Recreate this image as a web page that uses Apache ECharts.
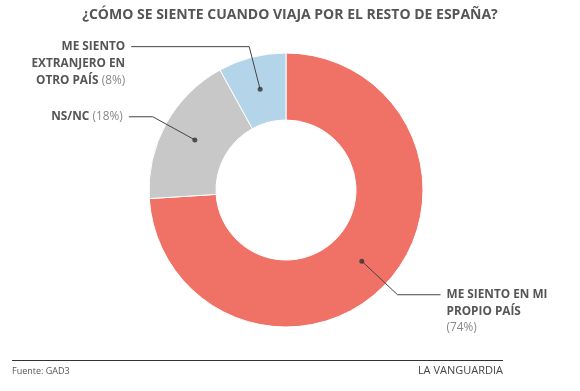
<!DOCTYPE html>
<html>
<head>
<meta charset="utf-8">
<script src="https://cdn.jsdelivr.net/npm/echarts@6/dist/echarts.min.js"></script>
<style>
html,body{margin:0;padding:0;background:#fff;}
#chart{width:580px;height:391px;}
</style>
</head>
<body>
<div id="chart"></div>
<script>
// ---- data ----
const categories = ['ME SIENTO EN MI\nPROPIO PAÍS', 'NS/NC', 'ME SIENTO\nEXTRANJERO EN\nOTRO PAÍS'];
const values = [74, 18, 8];
const pctSeparator = ['\n', ' ', ' '];
const titleText = '¿CÓMO SE SIENTE CUANDO VIAJA POR EL RESTO DE ESPAÑA?';
const sourceText = 'Fuente: GAD3';
const brandText = 'LA VANGUARDIA';

// ---- styles ----
const colors = ['#f07266', '#c8c8c8', '#b4d5e9'];
const lineLen = [49, 48, 44];
const lineLen2 = [43, 24, 118];
const lineHeights = [16.5, 17, 17];
const CX = 286, CY = 190;
const FONT = '"Open Sans", sans-serif';

const total = values.reduce((a, b) => a + b, 0);

function labelText(i) {
  const lines = categories[i].split('\n').map(s => '{b|' + s + '}');
  const pct = '{n|(' + values[i] + '%)}';
  if (pctSeparator[i] === '\n') return lines.join('\n') + '\n' + pct;
  lines[lines.length - 1] += ' ' + pct;
  return lines.join('\n');
}
function lineCount(i) {
  return labelText(i).split('\n').length;
}

const ringData = values.map((v, i) => ({
  name: categories[i], value: v, itemStyle: { color: colors[i] }
}));
const labelData = values.map((v, i) => ({
  name: categories[i], value: v,
  labelLine: { length: lineLen[i], length2: lineLen2[i] },
  label: {
    padding: [(lineCount(i) - 1) * lineHeights[i], 0, 0, 0],
    lineHeight: lineHeights[i],
    rich: {
      b: { fontFamily: FONT, fontSize: 11.8, fontWeight: 'bold', color: '#555', lineHeight: lineHeights[i] },
      n: { fontFamily: FONT, fontSize: 11.8, color: '#888', lineHeight: lineHeights[i] }
    }
  }
}));
let cum = 0;
const dotData = values.map(v => { const mid = cum + v / 2; cum += v; return [104, mid]; });

const chart = echarts.init(document.getElementById('chart'), null, { renderer: 'canvas' });
chart.setOption({
  animation: false,
  backgroundColor: '#fff',
  title: {
    text: titleText, left: 'center', top: 3,
    textStyle: { fontFamily: FONT, fontSize: 14, fontWeight: 'bold', color: '#555' }
  },
  polar: { center: [CX, CY], radius: 137 },
  angleAxis: { type: 'value', min: 0, max: total, startAngle: 90, clockwise: true, show: false },
  radiusAxis: { type: 'value', min: 0, max: 137, show: false },
  series: [
    {
      type: 'pie', center: [CX, CY], radius: [70, 137], startAngle: 90, silent: true, z: 1,
      label: { show: false }, labelLine: { show: false },
      itemStyle: { borderColor: '#fff', borderWidth: 1 },
      emphasis: { disabled: true },
      data: ringData
    },
    {
      type: 'pie', center: [CX, CY], radius: [0, 104], startAngle: 90, silent: true, z: 5,
      itemStyle: { color: 'rgba(0,0,0,0)' },
      emphasis: { disabled: true },
      label: {
        show: true, position: 'outside', alignTo: 'none', distanceToLabelLine: 6,
        formatter: p => labelText(p.dataIndex)
      },
      labelLine: { show: true, lineStyle: { color: '#444', width: 1 } },
      data: labelData
    },
    {
      type: 'scatter', coordinateSystem: 'polar', silent: true,
      symbol: 'circle', symbolSize: 5, itemStyle: { color: '#333' },
      data: dotData, z: 10
    }
  ],
  graphic: [
    { type: 'line', shape: { x1: 12, y1: 360.5, x2: 503, y2: 360.5 }, style: { stroke: '#333', lineWidth: 1 } },
    { type: 'text', x: 12, y: 371, style: { text: sourceText, font: '9px ' + FONT, fill: '#555', verticalAlign: 'middle' } },
    { type: 'text', x: 503, y: 371, style: { text: brandText, font: '11px ' + FONT, fill: '#444', align: 'right', verticalAlign: 'middle' } }
  ]
});
</script>
</body>
</html>
